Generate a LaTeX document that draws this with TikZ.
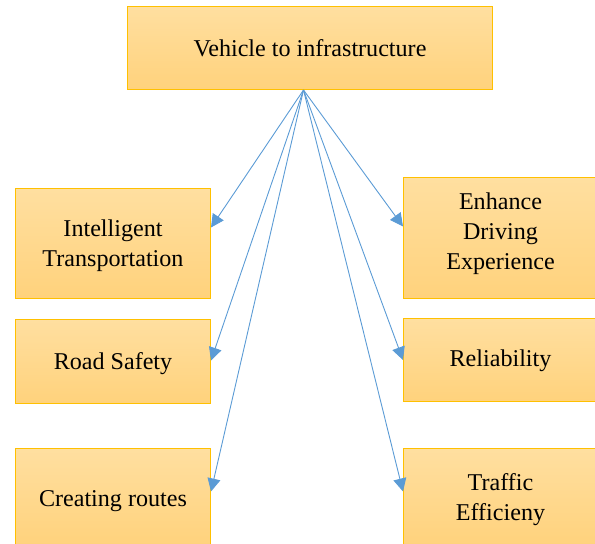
\documentclass[tikz,border=0pt]{standalone}
\usepackage{fontspec}
\setmainfont{LiberationSerif}[Extension=.ttf, UprightFont=*-Regular, BoldFont=*-Bold]
\usetikzlibrary{arrows.meta}
\definecolor{boxtop}{HTML}{FFDFA0}
\definecolor{boxbot}{HTML}{FFD27C}
\definecolor{boxline}{HTML}{FFC000}
\definecolor{arr}{HTML}{5B9BD5}
\tikzset{
  box/.style={draw=boxline, line width=1pt, top color=boxtop, bottom color=boxbot,
    inner sep=0pt, anchor=north west, align=center,
    font=\rmfamily\fontsize{24.1}{30}\selectfont},
  link/.style={draw=arr, line width=0.9pt, -{Triangle[length=13pt,width=13pt]}}
}
\begin{document}
\begin{tikzpicture}[x=1pt,y=-1pt]
\useasboundingbox (0,0) rectangle (595,544);
\clip (0,0) rectangle (595,544);
\node[box, minimum width=365pt, minimum height=83pt] (top) at (127,6) {Vehicle to infrastructure};
\node[box, minimum width=195pt, minimum height=110pt] (l1) at (15,188) {\rule{0pt}{22pt}Intelligent\\Transportation};
\node[box, minimum width=195pt, minimum height=84pt] (l2) at (15,319) {\rule{0pt}{20.5pt}Road Safety};
\node[box, minimum width=195pt, minimum height=98pt] (l3) at (15,448) {\rule{0pt}{22.5pt}Creating routes};
\node[box, minimum width=194pt, minimum height=121pt] (r1) at (403,177) {Enhance\\Driving\\Experience\rule[-13pt]{0pt}{0pt}};
\node[box, minimum width=194pt, minimum height=83pt] (r2) at (403,318) {\rule{0pt}{18.5pt}Reliability};
\node[box, minimum width=194pt, minimum height=98pt] (r3) at (403,448) {\rule{0pt}{20.5pt}Traffic\\Efficieny};
\coordinate (o) at ([xshift=-6.5pt]top.south);
\draw[link] (o) -- ([yshift=16pt]l1.east);
\draw[link] (o) -- ([yshift=1pt]l2.east);
\draw[link] (o) -- ([yshift=6pt]l3.east);
\draw[link] (o) -- ([yshift=11.5pt]r1.west);
\draw[link] (o) -- (r2.west);
\draw[link] (o) -- ([yshift=6pt]r3.west);
\end{tikzpicture}
\end{document}
